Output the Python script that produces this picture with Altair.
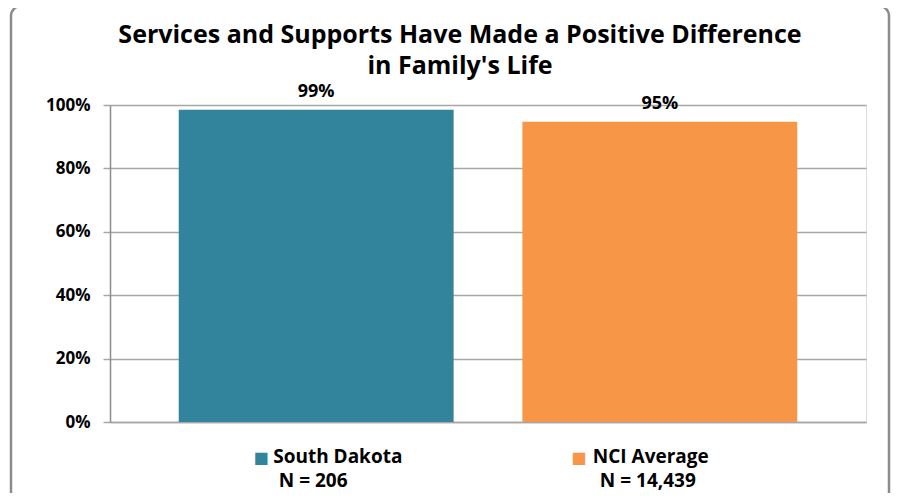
import altair as alt
import pandas as pd

categories = ["South Dakota", "NCI Average"]
values = [0.985, 0.947]
value_labels = ["99%", "95%"]
sample_sizes = ["N = 206", "N = 14,439"]
colors = ["#31849B", "#F79646"]
title_lines = ["Services and Supports Have Made a Positive Difference", "in Family's Life"]
y_ticks = [0, 0.2, 0.4, 0.6, 0.8, 1.0]

df = pd.DataFrame({
    "category": categories,
    "value": values,
    "label": value_labels,
    "n": sample_sizes,
})

FONT = "Open Sans"
W, H = 756, 317

x = alt.X("category:N", sort=categories,
          scale=alt.Scale(paddingInner=0.2, paddingOuter=0.2),
          axis=alt.Axis(labels=False, ticks=False, title=None, domainColor="#A6A6A6",
                        domainWidth=1.5, grid=False))
y = alt.Y("value:Q", scale=alt.Scale(domain=[0, 1], nice=False),
          axis=alt.Axis(values=y_ticks, format=".0%", title=None, labelFont=FONT,
                        labelFontSize=17, labelFontWeight="bold", labelColor="#000000",
                        labelPadding=13, tickSize=7, tickColor="#A6A6A6", tickWidth=1.5,
                        domainColor="#8C8C8C", domainWidth=1.5, gridColor="#A6A6A6",
                        gridWidth=1.5))
color = alt.Color("category:N", scale=alt.Scale(domain=categories, range=colors), legend=None)

base = alt.Chart(df)
first = base.transform_filter(alt.datum.category == categories[0])

frame = first.mark_rect(fill=None, stroke="#8C8C8C", strokeWidth=2.5, cornerRadius=10).encode(
    x=alt.value(-99), x2=alt.value(779), y=alt.value(-99), y2=alt.value(420)
)

title = first.mark_text(font=FONT, fontSize=25, fontWeight="bold", baseline="alphabetic",
                        align="center", lineHeight=31, color="#000000").encode(
    x=alt.value(350), y=alt.value(-62), text=alt.value(title_lines))

bars = base.mark_bar().encode(x=x, y=y, color=color)

bar_text = base.mark_text(font=FONT, fontSize=18, fontWeight="bold", baseline="alphabetic",
                          dy=-13, color="#000000").encode(
    x=alt.X("category:N", sort=categories), y="value:Q", text="label:N")

# legend-like entries below each bar (offsets relative to the bar centre)
legend_offsets = {
    categories[0]: {"square": -55, "name": -43, "n": -3},
    categories[1]: {"square": -81, "name": -67, "n": -12},
}
legend_layers = []
for cat, off in legend_offsets.items():
    sub = base.transform_filter(alt.datum.category == cat)
    legend_layers.append(sub.mark_text(font="DejaVu Sans", fontSize=16, baseline="alphabetic",
                                       dx=off["square"], align="center").encode(
        x=alt.X("category:N", sort=categories), y=alt.value(358),
        text=alt.value("■"), color=color))
    legend_layers.append(sub.mark_text(font=FONT, fontSize=19, fontWeight="bold",
                                       baseline="alphabetic", align="left", dx=off["name"],
                                       color="#000000").encode(
        x=alt.X("category:N", sort=categories), y=alt.value(358), text="category:N"))
    legend_layers.append(sub.mark_text(font=FONT, fontSize=19, fontWeight="bold",
                                       baseline="alphabetic", align="center", dx=off["n"],
                                       color="#000000").encode(
        x=alt.X("category:N", sort=categories), y=alt.value(382), text="n:N"))

chart = alt.layer(frame, title, bars, bar_text, *legend_layers).properties(
    width=W, height=H,
    autosize=alt.AutoSizeParams(type="none"),
    padding={"left": 102, "top": 97, "right": 26, "bottom": 71},
).configure_view(stroke=None, fill="#EBEBEB").configure(background="#FFFFFF")

chart.save("out.html", embed_options={"renderer": "svg", "actions": False})
